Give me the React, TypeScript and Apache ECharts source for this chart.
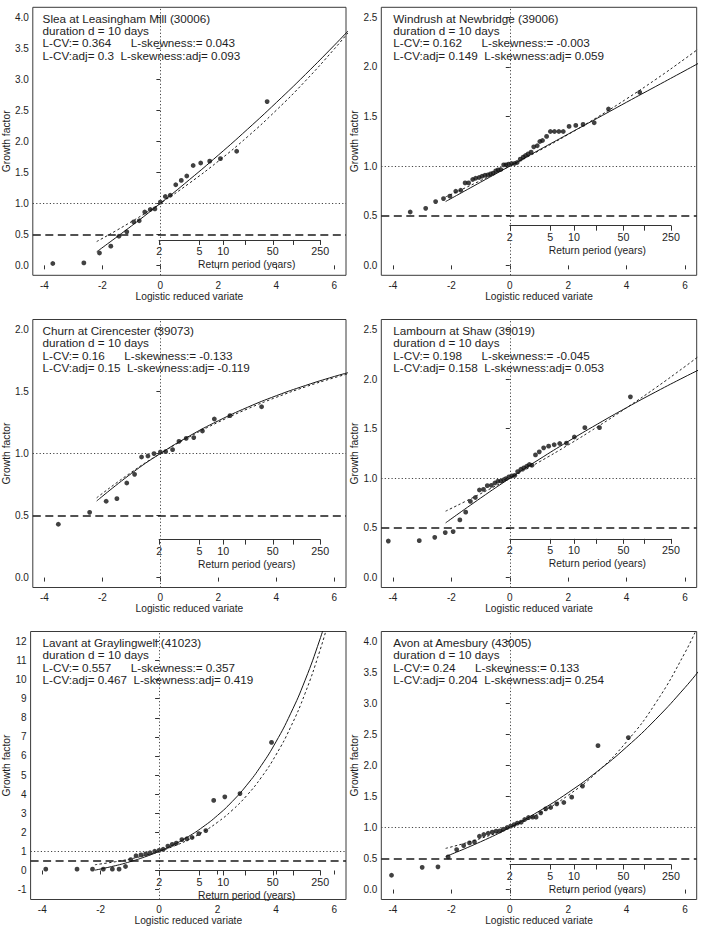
import React, { useEffect, useRef } from "react";
import * as echarts from "echarts";

const FONT = '"Liberation Sans", Arial, Helvetica, sans-serif';
const INK = "#1e1e1e";

// ---- station annotations ----
const STATIONS = [
  "Slea at Leasingham Mill (30006)",
  "Windrush at Newbridge (39006)",
  "Churn at Cirencester (39073)",
  "Lambourn at Shaw (39019)",
  "Lavant at Graylingwell (41023)",
  "Avon at Amesbury (43005)",
];
const DURATION_LABEL = "duration d = 10 days";
const L_CV = [0.364, 0.162, 0.16, 0.198, 0.557, 0.24];
const L_SKEW = [0.043, -0.003, -0.133, -0.045, 0.357, 0.133];
const L_CV_ADJ = [0.3, 0.149, 0.15, 0.158, 0.467, 0.204];
const L_SKEW_ADJ = [0.093, 0.059, -0.119, 0.053, 0.419, 0.254];

// ---- observed growth factors: [logistic reduced variate, growth factor] ----
const OBS_SLEA = [
  [-3.71, 0.03], [-2.64, 0.04], [-2.1, 0.2], [-1.71, 0.31], [-1.43, 0.47], [-1.16, 0.54],
  [-0.92, 0.7], [-0.73, 0.72], [-0.54, 0.86], [-0.35, 0.9], [-0.19, 0.91], [0.0, 1.02],
  [0.17, 1.11], [0.34, 1.13], [0.53, 1.3], [0.72, 1.37], [0.91, 1.44], [1.13, 1.61],
  [1.39, 1.65], [1.7, 1.68], [2.07, 1.72], [2.63, 1.84], [3.68, 2.64],
];
const OBS_WINDRUSH = [
  [-3.41, 0.538], [-2.88, 0.575], [-2.54, 0.643], [-2.27, 0.673], [-2.05, 0.697], [-1.85, 0.747],
  [-1.68, 0.757], [-1.53, 0.831], [-1.41, 0.831], [-1.27, 0.865], [-1.17, 0.878], [-1.05, 0.885],
  [-0.95, 0.898], [-0.85, 0.908], [-0.75, 0.912], [-0.66, 0.922], [-0.57, 0.929], [-0.48, 0.952],
  [-0.4, 0.962], [-0.31, 0.966], [-0.21, 1.013], [-0.13, 1.013], [-0.04, 1.02], [0.06, 1.026],
  [0.16, 1.026], [0.25, 1.036], [0.36, 1.07], [0.46, 1.09], [0.54, 1.107], [0.63, 1.124],
  [0.73, 1.141], [0.82, 1.194], [0.94, 1.205], [1.03, 1.248], [1.12, 1.258], [1.26, 1.299],
  [1.39, 1.349], [1.53, 1.349], [1.68, 1.349], [1.83, 1.349], [2.03, 1.4], [2.26, 1.41],
  [2.51, 1.42], [2.89, 1.437], [3.38, 1.575], [4.45, 1.743],
];
const OBS_CHURN = [
  [-3.52, 0.43], [-2.44, 0.526], [-1.87, 0.615], [-1.5, 0.636], [-1.16, 0.762], [-0.89, 0.832],
  [-0.65, 0.972], [-0.43, 0.98], [-0.22, 0.999], [0.0, 1.012], [0.18, 1.015], [0.42, 1.031],
  [0.64, 1.098], [0.89, 1.122], [1.15, 1.128], [1.45, 1.181], [1.86, 1.278], [2.4, 1.305],
  [3.49, 1.377],
];
const OBS_LAMBOURN = [
  [-4.16, 0.368], [-3.1, 0.372], [-2.57, 0.405], [-2.21, 0.453], [-1.94, 0.463], [-1.71, 0.581],
  [-1.51, 0.659], [-1.35, 0.767], [-1.18, 0.807], [-1.04, 0.882], [-0.9, 0.889], [-0.77, 0.926],
  [-0.63, 0.929], [-0.51, 0.953], [-0.41, 0.97], [-0.31, 0.973], [-0.21, 0.986], [-0.13, 0.997],
  [-0.03, 1.014], [0.07, 1.024], [0.17, 1.03], [0.27, 1.068], [0.38, 1.091], [0.48, 1.105],
  [0.58, 1.122], [0.67, 1.139], [0.76, 1.132], [0.88, 1.236], [1.01, 1.267], [1.16, 1.307],
  [1.33, 1.324], [1.52, 1.338], [1.71, 1.351], [1.94, 1.355], [2.21, 1.416], [2.57, 1.51],
  [3.07, 1.51], [4.13, 1.821],
];
const OBS_LAVANT = [
  [-3.88, 0.07], [-2.81, 0.07], [-2.28, 0.07], [-1.91, 0.07], [-1.6, 0.07], [-1.37, 0.07],
  [-1.15, 0.21], [-0.97, 0.57], [-0.79, 0.77], [-0.62, 0.82], [-0.46, 0.87], [-0.31, 0.93],
  [-0.15, 1.01], [0.0, 1.05], [0.14, 1.11], [0.3, 1.28], [0.45, 1.37], [0.59, 1.43],
  [0.78, 1.62], [0.95, 1.66], [1.13, 1.73], [1.36, 1.93], [1.6, 2.09], [1.87, 3.67],
  [2.25, 3.86], [2.77, 4.03], [3.85, 6.71],
];
const OBS_AVON = [
  [-4.05, 0.231], [-3.0, 0.358], [-2.46, 0.366], [-2.11, 0.526], [-1.82, 0.645], [-1.58, 0.709],
  [-1.38, 0.752], [-1.21, 0.768], [-1.04, 0.86], [-0.89, 0.887], [-0.74, 0.908], [-0.6, 0.925],
  [-0.47, 0.941], [-0.34, 0.946], [-0.22, 0.973], [-0.09, 1.0], [0.03, 1.022], [0.15, 1.048],
  [0.26, 1.07], [0.39, 1.086], [0.51, 1.129], [0.64, 1.161], [0.78, 1.167], [0.9, 1.167],
  [1.06, 1.237], [1.23, 1.301], [1.4, 1.323], [1.61, 1.382], [1.85, 1.404], [2.12, 1.49],
  [2.49, 1.668], [3.02, 2.32], [4.06, 2.45],
];

// ---- fitted growth curves (solid: single-site, dotted: adjusted) ----
const CURVE_X = [-2.197, -1, 0, 1, 2, 3, 4, 5, 6, 6.5];
const CURVE_X_LAVANT = [-2.197, -1.5, -1, -0.5, 0, 0.5, 1, 1.5, 2, 2.5, 3, 3.5, 4, 4.5, 5, 5.5, 5.8];
const FIT_SLEA = [0.219, 0.635, 1, 1.381, 1.778, 2.193, 2.626, 3.077, 3.549, 3.793];
const ADJ_SLEA = [0.384, 0.704, 1, 1.325, 1.681, 2.072, 2.502, 2.973, 3.49, 3.767];
const FIT_WINDRUSH = [0.643, 0.838, 1, 1.162, 1.323, 1.483, 1.644, 1.803, 1.962, 2.042];
const ADJ_WINDRUSH = [0.69, 0.854, 1, 1.155, 1.319, 1.493, 1.678, 1.874, 2.082, 2.191];
const FIT_CHURN = [0.617, 0.839, 1, 1.141, 1.264, 1.372, 1.466, 1.548, 1.621, 1.653];
const ADJ_CHURN = [0.643, 0.849, 1, 1.134, 1.253, 1.359, 1.453, 1.537, 1.611, 1.644];
const FIT_LAMBOURN = [0.551, 0.801, 1, 1.19, 1.372, 1.546, 1.712, 1.871, 2.023, 2.096];
const ADJ_LAMBOURN = [0.669, 0.845, 1, 1.164, 1.336, 1.519, 1.711, 1.913, 2.126, 2.237];
const FIT_LAVANT = [0.017, 0.25, 0.457, 0.704, 1, 1.353, 1.776, 2.281, 2.885, 3.607, 4.469, 5.501, 6.734, 8.208, 9.97, 12.076, 13.532];
const ADJ_LAVANT = [0.301, 0.458, 0.602, 0.78, 1, 1.271, 1.605, 2.017, 2.525, 3.151, 3.924, 4.876, 6.05, 7.498, 9.283, 11.485, 13.045];
const FIT_AVON = [0.532, 0.77, 1, 1.263, 1.563, 1.906, 2.298, 2.746, 3.257, 3.54];
const ADJ_AVON = [0.664, 0.824, 1, 1.227, 1.52, 1.897, 2.384, 3.011, 3.82, 4.308];

// ---- axis ticks ----
const X_TICKS = [-4, -2, 0, 2, 4, 6];
const Y_TICKS_4 = [0, 0.5, 1, 1.5, 2, 2.5, 3, 3.5, 4];
const Y_TICKS_25 = [0, 0.5, 1, 1.5, 2, 2.5];
const Y_TICKS_2 = [0, 0.5, 1, 1.5, 2];
const Y_TICKS_12 = [-1, 0, 1, 2, 3, 4, 5, 6, 7, 8, 9, 10, 11, 12];
const RETURN_PERIOD_TICKS = [2, 5, 10, 20, 50, 100, 250];
const RETURN_PERIOD_LABELS = [2, 5, 10, 50, 250];
const MEDIAN_LEVEL = 1;
const HALF_LEVEL = 0.5;

const OBS = [OBS_SLEA, OBS_WINDRUSH, OBS_CHURN, OBS_LAMBOURN, OBS_LAVANT, OBS_AVON];
const FIT = [FIT_SLEA, FIT_WINDRUSH, FIT_CHURN, FIT_LAMBOURN, FIT_LAVANT, FIT_AVON];
const ADJ = [ADJ_SLEA, ADJ_WINDRUSH, ADJ_CHURN, ADJ_LAMBOURN, ADJ_LAVANT, ADJ_AVON];
const FIT_X = [CURVE_X, CURVE_X, CURVE_X, CURVE_X, CURVE_X_LAVANT, CURVE_X];
const Y_TICKS = [Y_TICKS_4, Y_TICKS_25, Y_TICKS_2, Y_TICKS_25, Y_TICKS_12, Y_TICKS_4];

// ---- layout ----
const X_MIN = -4.4;
const X_MAX = 6.4;
const COL_LEFT = [30.6, 381.3];
const ROW_TOP = [7.3, 319.5, 631.5];
const PLOT_W = 315.4;
const PLOT_H = 268;
const Y_RANGES = [
  [-0.16, 4.16],
  [-0.1, 2.6],
  [-0.08, 2.08],
  [-0.1, 2.6],
  [-1.52, 12.52],
  [-0.16, 4.16],
];
// height (in growth-factor units) of the return-period scale inside each panel
const RP_AXIS_LEVEL = [0.41, 0.4, 0.306, 0.39, 0.0, 0.404];

// reduced logistic variate of a return period
const reducedVariate = (T: number) => Math.log(T - 1);

let measureCtx: CanvasRenderingContext2D | null = null;
function textWidth(s: string, size: number) {
  if (!measureCtx) measureCtx = document.createElement("canvas").getContext("2d");
  if (!measureCtx) return s.length * size * 0.5;
  measureCtx.font = `${size}px ${FONT}`;
  return measureCtx.measureText(s).width;
}

function buildOption() {
  const grid: any[] = [];
  const xAxis: any[] = [];
  const yAxis: any[] = [];
  const series: any[] = [];
  const graphic: any[] = [];
  const tickStyle = { color: "#333", width: 1 };

  STATIONS.forEach((station, i) => {
    const left = COL_LEFT[i % 2];
    const top = ROW_TOP[Math.floor(i / 2)];
    const [yMin, yMax] = Y_RANGES[i];
    const xPx = (v: number) => left + ((v - X_MIN) / (X_MAX - X_MIN)) * PLOT_W;
    const yPx = (v: number) => top + ((yMax - v) / (yMax - yMin)) * PLOT_H;
    const yTicks = Y_TICKS[i];
    const integerTicks = yTicks === Y_TICKS_12;
    const g = 2 * i;

    grid.push({
      left,
      top,
      width: PLOT_W,
      height: PLOT_H,
      show: true,
      borderColor: "#3a3a3a",
      borderWidth: 1,
      backgroundColor: "transparent",
    });
    const rpLine = yPx(RP_AXIS_LEVEL[i]);
    grid.push({
      left: xPx(0),
      top: rpLine - 1,
      width: xPx(reducedVariate(250)) - xPx(0),
      height: 1,
    });

    xAxis.push({
      gridIndex: g,
      type: "value",
      min: X_MIN,
      max: X_MAX,
      name: "Logistic reduced variate",
      nameLocation: "middle",
      nameGap: 16,
      nameTextStyle: { fontSize: 10.2, color: INK, fontFamily: FONT },
      axisLine: { show: false },
      axisTick: { show: true, customValues: X_TICKS, length: 4, lineStyle: tickStyle },
      axisLabel: {
        customValues: X_TICKS,
        margin: 5,
        fontSize: 10,
        color: INK,
        fontFamily: FONT,
        formatter: (v: number) => String(v),
      },
      splitLine: { show: false },
    });
    xAxis.push({
      gridIndex: g + 1,
      type: "value",
      min: 0,
      max: reducedVariate(250),
      position: "bottom",
      axisLine: { show: true, lineStyle: { color: "#333", width: 1 } },
      axisTick: {
        show: true,
        customValues: RETURN_PERIOD_TICKS.map(reducedVariate),
        length: 5,
        lineStyle: tickStyle,
      },
      axisLabel: {
        customValues: RETURN_PERIOD_LABELS.map(reducedVariate),
        margin: 6,
        fontSize: 10.7,
        color: INK,
        fontFamily: FONT,
        formatter: (v: number) => String(Math.round(Math.exp(v) + 1)),
      },
      splitLine: { show: false },
      name: "Return period (years)",
      nameLocation: "middle",
      nameGap: 20,
      nameTextStyle: { fontSize: 10.3, color: INK, fontFamily: FONT, padding: [0, 0, 0, 14] },
    });

    yAxis.push({
      gridIndex: g,
      type: "value",
      min: yMin,
      max: yMax,
      name: "Growth factor",
      nameLocation: "middle",
      nameRotate: 90,
      nameGap: 16,
      nameTextStyle: { fontSize: 10.3, color: INK, fontFamily: FONT },
      axisLine: { show: false },
      axisTick: { show: true, customValues: yTicks, length: 4, lineStyle: tickStyle },
      axisLabel: {
        customValues: yTicks,
        margin: 4,
        fontSize: 10,
        color: INK,
        fontFamily: FONT,
        formatter: (v: number) => (integerTicks ? String(v) : v.toFixed(1)),
      },
      splitLine: { show: false },
    });
    yAxis.push({ gridIndex: g + 1, type: "value", min: 0, max: 1, show: false });

    const xs = FIT_X[i];
    series.push({
      type: "line",
      xAxisIndex: g,
      yAxisIndex: g,
      data: xs.map((x, k) => [x, FIT[i][k]]),
      smooth: true,
      showSymbol: false,
      clip: true,
      silent: true,
      lineStyle: { color: "#151515", width: 1 },
      z: 2,
    });
    series.push({
      type: "line",
      xAxisIndex: g,
      yAxisIndex: g,
      data: xs.map((x, k) => [x, ADJ[i][k]]),
      smooth: true,
      showSymbol: false,
      clip: true,
      silent: true,
      lineStyle: { color: "#222", width: 1, type: [2.4, 2.4] },
      z: 2,
    });
    series.push({
      type: "scatter",
      xAxisIndex: g,
      yAxisIndex: g,
      data: OBS[i],
      symbol: "circle",
      symbolSize: 4.8,
      silent: true,
      itemStyle: { color: "#111" },
      z: 3,
      markLine: {
        silent: true,
        symbol: ["none", "none"],
        label: { show: false },
        data: [
          { yAxis: MEDIAN_LEVEL, lineStyle: { color: "#444", width: 1, type: [1.2, 2.2] } },
          { xAxis: 0, lineStyle: { color: "#444", width: 1, type: [1.2, 2.2] } },
          { yAxis: HALF_LEVEL, lineStyle: { color: "#1a1a1a", width: 1.6, type: [8, 4.5] } },
        ],
      },
    });

    // station annotation block
    const textSize = 11.7;
    const lineH = 12.3;
    const tx = left + 12;
    const ty = yPx(yTicks[yTicks.length - 1]) - 5;
    const txt = (text: string, x: number, y: number) => ({
      type: "text",
      x,
      y,
      silent: true,
      style: {
        text,
        fontSize: textSize,
        fontFamily: FONT,
        fill: INK,
        align: "left",
        verticalAlign: "top",
      },
    });
    const space = textWidth(" ", textSize);
    const a3 = `L-CV:= ${L_CV[i]}`;
    const b3 = `L-skewness:= ${L_SKEW[i]}`;
    const a4 = `L-CV:adj= ${L_CV_ADJ[i]}`;
    const b4 = `L-skewness:adj= ${L_SKEW_ADJ[i]}`;
    graphic.push(txt(station, tx, ty));
    graphic.push(txt(DURATION_LABEL, tx, ty + lineH));
    graphic.push(txt(a3, tx, ty + 2 * lineH));
    graphic.push(txt(b3, tx + textWidth(a3, textSize) + 6 * space, ty + 2 * lineH));
    graphic.push(txt(a4, tx, ty + 3 * lineH));
    graphic.push(txt(b4, tx + textWidth(a4, textSize) + 2 * space, ty + 3 * lineH));
  });

  return {
    animation: false,
    backgroundColor: "#ffffff",
    textStyle: { fontFamily: FONT },
    grid,
    xAxis,
    yAxis,
    series,
    graphic,
  };
}

export default function App() {
  const ref = useRef<HTMLDivElement>(null);
  useEffect(() => {
    if (!ref.current) return;
    const chart = echarts.init(ref.current, undefined, { renderer: "svg" });
    chart.setOption(buildOption() as any);
    return () => chart.dispose();
  }, []);
  return (
    <div
      ref={ref}
      style={{ position: "absolute", left: 0, top: 0, width: 703, height: 933, background: "#fff" }}
    />
  );
}
